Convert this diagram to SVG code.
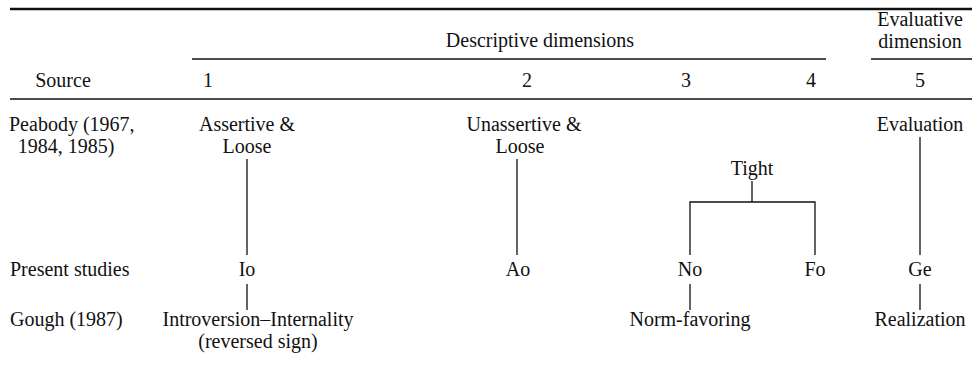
<svg xmlns="http://www.w3.org/2000/svg" width="972" height="378" viewBox="0 0 972 378">
<style>
text{font-family:"Liberation Serif","Times New Roman",serif;font-size:20px;fill:#111}
.c{text-anchor:middle}
.rule{stroke:#111;fill:none}
.ln{stroke:#111;stroke-width:1.3;fill:none}
</style>
<rect width="972" height="378" fill="#fff"/>
<g id="table-rules">
<line class="rule" x1="10" y1="9" x2="972" y2="9" stroke-width="2.5"/>
<line class="rule" x1="192" y1="59" x2="826" y2="59" stroke-width="1.3"/>
<line class="rule" x1="871" y1="59" x2="972" y2="59" stroke-width="1.3"/>
<line class="rule" x1="10" y1="99" x2="972" y2="99" stroke-width="1.6"/>
</g>
<g id="header">
<text class="c" x="920" y="26">Evaluative</text>
<text class="c" x="540" y="47">Descriptive dimensions</text>
<text class="c" x="920" y="48">dimension</text>
<text class="c" x="63" y="87">Source</text>
<text class="c" x="208" y="87">1</text>
<text class="c" x="527" y="87">2</text>
<text class="c" x="686" y="87">3</text>
<text class="c" x="811" y="87">4</text>
<text class="c" x="920" y="87">5</text>
</g>
<g id="row-labels">
<text x="9" y="131">Peabody (1967,</text>
<text class="c" x="66" y="153">1984, 1985)</text>
<text x="10" y="276">Present studies</text>
<text x="10" y="326">Gough (1987)</text>
</g>
<g id="n-assertive"><text class="c" x="247" y="131">Assertive &amp;</text><text class="c" x="247" y="153">Loose</text></g>
<g id="n-unassertive"><text class="c" x="524" y="131">Unassertive &amp;</text><text class="c" x="520" y="153">Loose</text></g>
<g id="n-tight"><text class="c" x="752" y="175">Tight</text></g>
<g id="n-evaluation"><text class="c" x="920" y="131">Evaluation</text></g>
<g id="n-io"><text class="c" x="247" y="276">Io</text></g>
<g id="n-ao"><text class="c" x="518" y="276">Ao</text></g>
<g id="n-no"><text class="c" x="690" y="276">No</text></g>
<g id="n-fo"><text class="c" x="815" y="276">Fo</text></g>
<g id="n-ge"><text class="c" x="920" y="276">Ge</text></g>
<g id="n-introversion"><text class="c" x="258" y="326">Introversion–Internality</text><text class="c" x="258" y="348">(reversed sign)</text></g>
<g id="n-norm"><text class="c" x="690" y="326">Norm-favoring</text></g>
<g id="n-realization"><text class="c" x="920" y="326">Realization</text></g>
<g id="connectors">
<line class="ln" x1="247" y1="159" x2="247" y2="255"/>
<line class="ln" x1="517" y1="159" x2="517" y2="255"/>
<line class="ln" x1="920" y1="137" x2="920" y2="255"/>
<line class="ln" x1="752" y1="181" x2="752" y2="202" stroke-width="1.8"/>
<polyline class="ln" points="690,255 690,202 815,202 815,255"/>
<line class="ln" x1="247" y1="284" x2="247" y2="310"/>
<line class="ln" x1="690" y1="284" x2="690" y2="310"/>
<line class="ln" x1="920" y1="284" x2="920" y2="310"/>
</g>
</svg>
